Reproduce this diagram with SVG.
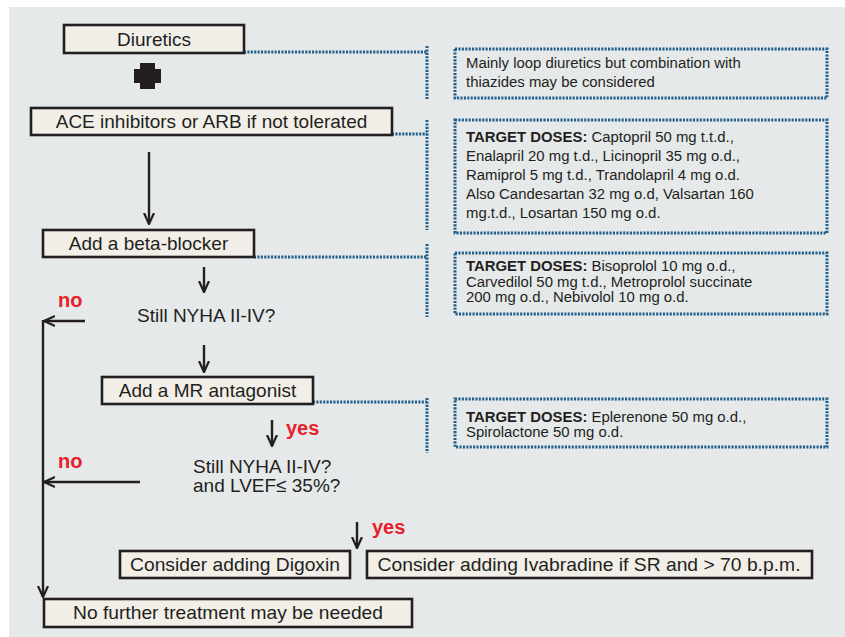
<svg xmlns="http://www.w3.org/2000/svg" width="845" height="637" viewBox="0 0 845 637">
<style>
.bg{fill:#e6e9ea}
.box{fill:#f2efe9;stroke:#231f20;stroke-width:2.6}
.t{font-family:"Liberation Sans",Arial,sans-serif;font-size:19px;fill:#231f20}
.tc{text-anchor:middle}
.nt{font-family:"Liberation Sans",Arial,sans-serif;font-size:14.9px;fill:#231f20}
.b{font-weight:bold}
.red{font-family:"Liberation Sans",Arial,sans-serif;font-size:20px;font-weight:bold;fill:#e8202a}
.dot{fill:none;stroke:#215f8a;stroke-width:3;stroke-dasharray:2.1 1.3}
.ln{fill:none;stroke:#231f20;stroke-width:2.4}
.ar{fill:none;stroke:#231f20;stroke-width:2.4;marker-end:url(#ah)}
</style>
<defs>
<marker id="ah" viewBox="0 0 12 12" refX="11" refY="6" markerWidth="12" markerHeight="12" markerUnits="userSpaceOnUse" orient="auto">
<path d="M0,1 L11,6 L0,11" fill="none" stroke="#231f20" stroke-width="2.2"/>
</marker>
</defs>
<rect class="bg" x="9" y="7" width="836" height="630"/>

<g id="connectors">
<path class="dot" d="M244,52 H427 M427,46 V99"/>
<path class="dot" d="M392,134 H427 M427,120 V230"/>
<path class="dot" d="M254,257 H427 M427,244 V317"/>
<path class="dot" d="M313,402 H427 M427,398 V453"/>
<path class="ar" d="M149,152 V224"/>
<path class="ar" d="M204,267 V292"/>
<path class="ar" d="M204,345 V372"/>
<path class="ar" d="M272,420 V446"/>
<path class="ar" d="M357,522 V548"/>
<path class="ar" d="M85,321 H44"/>
<path class="ar" d="M140,482 H44"/>
<path class="ar" d="M43,320 V597"/>
</g>

<g id="plus">
<path d="M140,63 H155 V69 H161 V83 H155 V89 H140 V83 H134 V69 H140 Z" fill="#231f20"/>
</g>

<g id="diuretics">
<rect class="box" x="64" y="25" width="180" height="28"/>
<text class="t tc" x="154" y="45.5">Diuretics</text>
</g>
<g id="ace">
<rect class="box" x="31" y="108" width="361" height="27"/>
<text class="t tc" x="211.5" y="128">ACE inhibitors or ARB if not tolerated</text>
</g>
<g id="beta">
<rect class="box" x="43" y="230" width="211" height="27"/>
<text class="t tc" x="148.5" y="250">Add a beta-blocker</text>
</g>
<g id="still1">
<text class="t" x="137" y="322">Still NYHA II-IV?</text>
<text class="red" x="58" y="307">no</text>
</g>
<g id="mr">
<rect class="box" x="102" y="377" width="211" height="27"/>
<text class="t tc" x="207.5" y="397">Add a MR antagonist</text>
<text class="red" x="286" y="435">yes</text>
</g>
<g id="still2">
<text class="t" x="193" y="473">Still NYHA II-IV?</text>
<text class="t" x="193" y="492">and LVEF≤ 35%?</text>
<text class="red" x="58" y="468">no</text>
<text class="red" x="372" y="534">yes</text>
</g>
<g id="digoxin">
<rect class="box" x="120" y="551" width="230" height="27"/>
<text class="t tc" x="235" y="571" textLength="210" lengthAdjust="spacingAndGlyphs">Consider adding Digoxin</text>
</g>
<g id="ivabradine">
<rect class="box" x="367" y="551" width="445" height="27"/>
<text class="t tc" x="589" y="571" textLength="423" lengthAdjust="spacingAndGlyphs">Consider adding Ivabradine if SR and &gt; 70 b.p.m.</text>
</g>
<g id="nofurther">
<rect class="box" x="44" y="599" width="368" height="28"/>
<text class="t tc" x="228" y="619" textLength="310" lengthAdjust="spacingAndGlyphs">No further treatment may be needed</text>
</g>

<g id="note1">
<rect class="dot" x="455" y="49" width="372" height="49"/>
<text class="nt" x="466" y="68">Mainly loop diuretics but combination with</text>
<text class="nt" x="466" y="87">thiazides may be considered</text>
</g>
<g id="note2">
<rect class="dot" x="455" y="120" width="372" height="113"/>
<text class="nt" x="466" y="142"><tspan class="b">TARGET DOSES:</tspan> Captopril 50 mg t.t.d.,</text>
<text class="nt" x="466" y="161">Enalapril 20 mg t.d., Licinopril 35 mg o.d.,</text>
<text class="nt" x="466" y="180">Ramiprol 5 mg t.d., Trandolapril 4 mg o.d.</text>
<text class="nt" x="466" y="199">Also Candesartan 32 mg o.d, Valsartan 160</text>
<text class="nt" x="466" y="218">mg.t.d., Losartan 150 mg o.d.</text>
</g>
<g id="note3">
<rect class="dot" x="455" y="253" width="372" height="61"/>
<text class="nt" x="466" y="271"><tspan class="b">TARGET DOSES:</tspan> Bisoprolol 10 mg o.d.,</text>
<text class="nt" x="466" y="286.5">Carvedilol 50 mg t.d., Metroprolol succinate</text>
<text class="nt" x="466" y="302">200 mg o.d., Nebivolol 10 mg o.d.</text>
</g>
<g id="note4">
<rect class="dot" x="455" y="399" width="372" height="48"/>
<text class="nt" x="466" y="422"><tspan class="b">TARGET DOSES:</tspan> Eplerenone 50 mg o.d.,</text>
<text class="nt" x="466" y="437">Spirolactone 50 mg o.d.</text>
</g>
</svg>
